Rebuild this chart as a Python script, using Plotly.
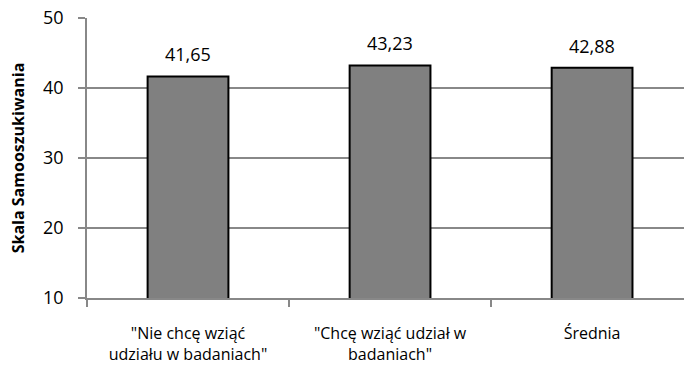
import plotly.graph_objects as go

categories = ['"Nie chcę wziąć<br>udziału w badaniach"', '"Chcę wziąć udział w<br>badaniach"', 'Średnia']
values = [41.65, 43.23, 42.88]
y_ticks = [10, 20, 30, 40, 50]
y_title = "Skala Samooszukiwania"

labels = [f"{v:.2f}".replace(".", ",") for v in values]

fig = go.Figure()
fig.add_trace(go.Bar(
    x=categories, y=values,
    marker=dict(color="#808080", line=dict(color="black", width=2)),
    width=0.4,
    hoverinfo="skip",
))

for c, v, t in zip(categories, values, labels):
    fig.add_annotation(x=c, y=v, text=t, showarrow=False, yanchor="bottom",
                       yshift=8, font=dict(family="Open Sans", size=18, color="black"))

fig.update_layout(
    width=684, height=367,
    margin=dict(l=87, r=0, t=18, b=69),
    paper_bgcolor="white", plot_bgcolor="white",
    showlegend=False,
    font=dict(family="Open Sans", size=16, color="black"),
    xaxis=dict(
        type="category", range=[-0.5, 2.455], automargin=False,
        showgrid=False, showline=True, linecolor="#888888", linewidth=1.5,
        ticks="outside", tickson="boundaries", ticklen=7, tickcolor="#888888", tickwidth=1.5,
        tickfont=dict(family="Open Sans", size=16, color="black"),
        ticklabelstandoff=20,
    ),
    yaxis=dict(
        range=[10, 50], tickvals=y_ticks, automargin=False,
        showgrid=True, gridcolor="#888888", gridwidth=1.5,
        showline=True, linecolor="#888888", linewidth=1.5,
        ticks="outside", ticklen=7, tickcolor="#888888", tickwidth=1.5,
        tickfont=dict(family="Open Sans", size=18, color="black"),
        ticklabelstandoff=11,
        title=dict(text=y_title, font=dict(family="Open Sans", size=16, color="black", weight="bold"), standoff=14),
        zeroline=False,
    ),
)
fig.write_html("out.html", config={"displayModeBar": False},
               post_script="document.body.style.margin='0';")
